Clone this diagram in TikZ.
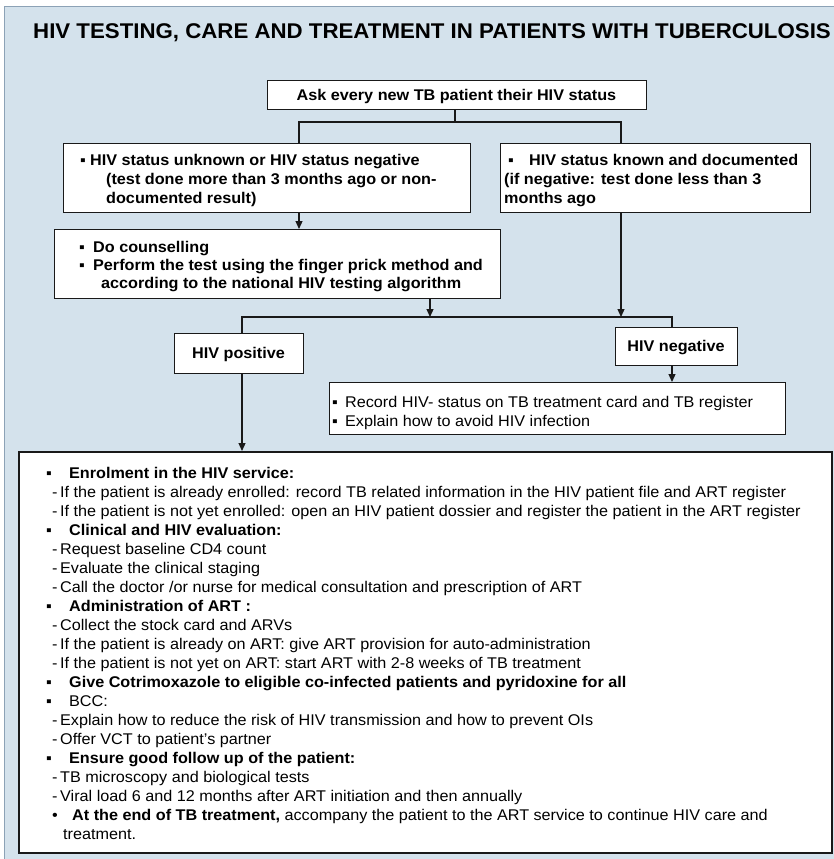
\documentclass[tikz,border=0pt]{standalone}
\usepackage{fontspec}
\setmainfont{Liberation Sans}[FakeStretch=1.045]
\usetikzlibrary{arrows.meta}
\definecolor{panel}{RGB}{212,226,236}
\definecolor{panelrule}{RGB}{140,162,182}
\definecolor{ink}{RGB}{25,25,25}
\newcommand{\bul}[2][0pt]{\makebox[#2][l]{\hspace*{#1}▪}}
\newcommand{\dsh}{\makebox[8pt][l]{-}}
\begin{document}
\begin{tikzpicture}[x=1pt,y=-1pt,
  box/.style={draw=ink, line width=1.3pt, fill=white, anchor=north west, inner sep=0pt},
  link/.style={draw=ink, line width=1.2pt},
  arr/.style={link, -{Triangle[length=8pt,width=7pt]}},
  txt/.style={anchor=base west, inner sep=0pt, font=\fontsize{15.5}{19.05}\selectfont},
  ctxt/.style={txt, anchor=base, font=\fontsize{15.5}{19.05}\selectfont\bfseries},
]
\useasboundingbox (0,0) rectangle (833,859);
\fill[white] (0,0) rectangle (833,859);
% panel behind the whole chart
\path[fill=panel, draw=panelrule, line width=1.5pt] (4.5,6.5) rectangle (845,875);

\node[anchor=base west, inner sep=0pt] (title) at (33,38.5)
  {\fontsize{21.3}{24}\selectfont\bfseries HIV TESTING, CARE AND TREATMENT IN PATIENTS WITH TUBERCULOSIS};

% boxes
\node[box, minimum width=379pt, minimum height=29pt] (ask) at (267,80) {};
\node[box, minimum width=407pt, minimum height=69pt] (unk) at (63,143) {};
\node[box, minimum width=310pt, minimum height=69pt] (kn) at (500,143) {};
\node[box, minimum width=446pt, minimum height=69pt] (dc) at (54,229) {};
\node[box, minimum width=129pt, minimum height=40pt] (pos) at (174,333) {};
\node[box, minimum width=122pt, minimum height=38pt] (neg) at (615,327) {};
\node[box, minimum width=456pt, minimum height=52pt] (rec) at (329,382) {};
\node[box, minimum width=813pt, minimum height=401pt, line width=1.5pt] (big) at (18,451) {};

% box texts
\node[ctxt] (askt) at (456.5,100) {Ask every new TB patient their HIV status};

\node[txt] (unk1) at (80,165.5) {\bfseries\bul{10pt}HIV status unknown or HIV status negative};
\node[txt] (unk2) at (106,184.5) {\bfseries (test done more than 3 months ago or non-};
\node[txt] (unk3) at (106,203.5) {\bfseries documented result)};

\node[txt] (kn1) at (508,165.5) {\bfseries\bul{21pt}HIV status known and documented};
\node[txt] (kn2) at (504,184.5) {\bfseries (if negative: test done less than 3};
\node[txt] (kn3) at (504,203.5) {\bfseries months ago};

\node[txt] (dc1) at (79,252) {\bfseries\bul{14pt}Do counselling};
\node[txt] (dc2) at (79,270) {\bfseries\bul{14pt}Perform the test using the finger prick method and};
\node[txt] (dc3) at (101,288) {\bfseries according to the national HIV testing algorithm};

\node[ctxt] (post) at (238.5,358.5) {HIV positive};
\node[ctxt] (negt) at (676,351.5) {HIV negative};

\node[txt] (rec1) at (332,407.5) {\bul{13pt}Record HIV- status on TB treatment card and TB register};
\node[txt] (rec2) at (332,426.5) {\bul{13pt}Explain how to avoid HIV infection};

\node[txt] (bigt) at (52,478) {\begin{tabular}[t]{@{}l@{}}
\bfseries\bul[-6pt]{17pt}Enrolment in the HIV service:\\
\dsh If the patient is already enrolled: record TB related information in the HIV patient file and ART register\\
\dsh If the patient is not yet enrolled: open an HIV patient dossier and register the patient in the ART register\\
\bfseries\bul[-6pt]{17pt}Clinical and HIV evaluation:\\
\dsh Request baseline CD4 count\\
\dsh Evaluate the clinical staging\\
\dsh Call the doctor /or nurse for medical consultation and prescription of ART\\
\bfseries\bul[-6pt]{17pt}Administration of ART :\\
\dsh Collect the stock card and ARVs\\
\dsh If the patient is already on ART: give ART provision for auto-administration\\
\dsh If the patient is not yet on ART: start ART with 2-8 weeks of TB treatment\\
\bfseries\bul[-6pt]{17pt}Give Cotrimoxazole to eligible co-infected patients and pyridoxine for all\\
\bul[-6pt]{17pt}BCC:\\
\dsh Explain how to reduce the risk of HIV transmission and how to prevent OIs\\
\dsh Offer VCT to patient’s partner\\
\bfseries\bul[-6pt]{17pt}Ensure good follow up of the patient:\\
\dsh TB microscopy and biological tests\\
\dsh Viral load 6 and 12 months after ART initiation and then annually\\
\makebox[20pt][l]{•}\textbf{At the end of TB treatment,} accompany the patient to the ART service to continue HIV care and\\
\hspace*{11pt}treatment.
\end{tabular}};

% connectors
\coordinate (jA) at (455,122);
\coordinate (jL) at (299,122);
\coordinate (jR) at (621,122);
\coordinate (mA) at (430,317);
\coordinate (mL) at (242,317);
\coordinate (mR) at (672,317);

\draw[link] (ask.south -| jA) -- (jA);
\draw[link] (unk.north -| jL) -- (jL) -- (jR) -- (kn.north -| jR);
\draw[arr] (unk.south -| jL) -- (dc.north -| jL);
\draw[arr] (dc.south -| mA) -- (mA);
\draw[arr] (kn.south -| jR) -- (jR |- mA);
\draw[link] (pos.north -| mL) -- (mL) -- (mR) -- (neg.north -| mR);
\draw[arr] (pos.south -| mL) -- (big.north -| mL);
\draw[arr] (neg.south -| mR) -- (rec.north -| mR);
\end{tikzpicture}
\end{document}
